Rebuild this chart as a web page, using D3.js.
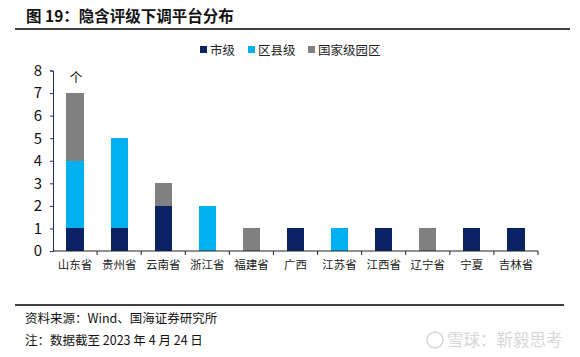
<!DOCTYPE html>
<html><head><meta charset="utf-8">
<script src="https://cdn.jsdelivr.net/npm/d3@7"></script>
<style>
body{margin:0;background:#fff;}
svg{display:block;}
text{font-family:"Noto Sans CJK SC","Liberation Sans",sans-serif;}
</style></head>
<body><svg id="c" width="580" height="357"></svg>
<script>
const categories = ["山东省","贵州省","云南省","浙江省","福建省","广西","江苏省","江西省","辽宁省","宁夏","吉林省"];
const cityLevel   = [1,1,2,0,0,1,0,1,0,1,1];
const countyLevel = [3,4,0,2,0,0,1,0,0,0,0];
const parkLevel   = [3,0,1,0,1,0,0,0,1,0,0];
const seriesNames = ["市级","区县级","国家级园区"];
const yTicks = [0,1,2,3,4,5,6,7,8];
const colors = ["#0b2265","#00b0f0","#808080"];

const svg = d3.select("#c");
// title
svg.append("text").attr("x",26).attr("y",22).attr("font-size",15.5).attr("font-weight","bold").attr("fill","#111")
  .text("图 19：隐含评级下调平台分布");
svg.append("line").attr("x1",15).attr("x2",570).attr("y1",29).attr("y2",29).attr("stroke","#000").attr("stroke-width",1.3);

const x = d3.scaleBand().domain(categories).range([53,538]).paddingInner(0.61).paddingOuter(0.305);
const y = d3.scaleLinear().domain([0,8]).range([251,70.5]);

const rows = categories.map((c,i)=>({cat:c, v:[cityLevel[i],countyLevel[i],parkLevel[i]]}));
const stack = d3.stack().keys([0,1,2]).value((d,k)=>d.v[k]);
const layers = stack(rows);

layers.forEach((layer,k)=>{
  svg.append("g").selectAll("rect").data(layer).join("rect")
    .attr("x",d=>x(d.data.cat)).attr("width",x.bandwidth())
    .attr("y",d=>y(d[1])).attr("height",d=>y(d[0])-y(d[1]))
    .attr("fill",colors[k]).attr("shape-rendering","crispEdges");
});

// y axis
const ya = svg.append("g").attr("transform","translate(53,0)")
  .call(d3.axisLeft(y).tickValues(yTicks).tickSize(3).tickPadding(8).tickFormat(d3.format("d")));
ya.select(".domain").attr("stroke","#1f2f66");
ya.selectAll(".tick line").attr("stroke","#1f2f66");
ya.selectAll("text").attr("font-family","Liberation Sans, Arial, sans-serif").attr("font-size",15).attr("fill","#111");

// x axis
const xa = svg.append("g").attr("transform","translate(0,251)")
  .call(d3.axisBottom(x).tickSize(0).tickPadding(10));
xa.select(".domain").attr("stroke","#222").attr("d","M53,0H538");
xa.selectAll("text").attr("font-size",11.5).attr("fill","#222");
const bounds = categories.map(c=>x(c)-x.step()*x.paddingInner()/2).concat([538]);
xa.selectAll(".bnd").data(bounds.slice(1)).join("line").attr("class","bnd")
  .attr("x1",d=>d).attr("x2",d=>d).attr("y1",0).attr("y2",4).attr("stroke","#222");

// unit
svg.append("text").attr("x",76).attr("y",82).attr("text-anchor","middle").attr("font-size",13).attr("fill","#111").text("个");

// legend
const legX = [200,248,308];
seriesNames.forEach((n,k)=>{
  svg.append("rect").attr("x",legX[k]).attr("y",46).attr("width",7).attr("height",7).attr("fill",colors[k]);
  svg.append("text").attr("x",legX[k]+10).attr("y",54.5).attr("font-size",12.5).attr("fill","#222").text(n);
});

// footer
svg.append("line").attr("x1",15).attr("x2",564).attr("y1",305).attr("y2",305).attr("stroke","#000").attr("stroke-width",1.3);
svg.append("text").attr("x",25).attr("y",323).attr("font-size",12.5).attr("fill","#111").text("资料来源：Wind、国海证券研究所");
svg.append("text").attr("x",25).attr("y",345).attr("font-size",12.5).attr("fill","#111").text("注：数据截至 2023 年 4 月 24 日");

// watermark
svg.append("circle").attr("cx",435).attr("cy",340).attr("r",8).attr("fill","none").attr("stroke","#d6d6d6").attr("stroke-width",1.5);
svg.append("text").attr("x",447).attr("y",346).attr("font-size",16.5).attr("fill","#d6d6d6").text("雪球：靳毅思考");
</script></body></html>
